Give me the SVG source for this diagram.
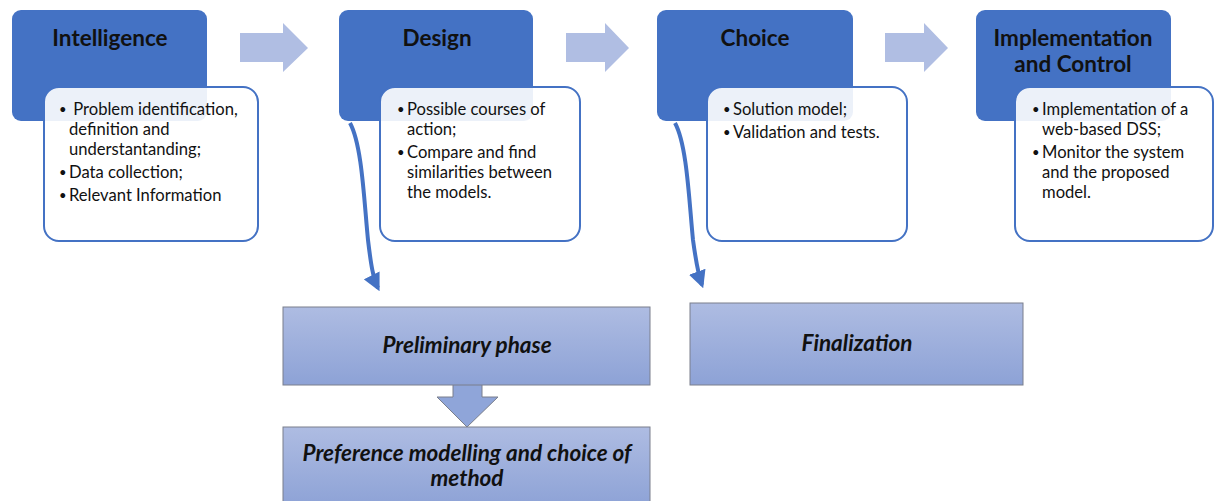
<svg xmlns="http://www.w3.org/2000/svg" width="1215" height="501" viewBox="0 0 1215 501">
<defs>
<linearGradient id="g" x1="0" y1="0" x2="0" y2="1">
<stop offset="0" stop-color="#AEBCE2"/>
<stop offset="1" stop-color="#8DA2D6"/>
</linearGradient>
<marker id="ah" viewBox="0 0 10 10" refX="8" refY="5" markerWidth="4.4" markerHeight="4.4" orient="auto" markerUnits="strokeWidth">
<path d="M0,0 L10,5 L0,10 Z" fill="#4472C4"/>
</marker>
<style>
.hd{fill:#4472C4}
.bd{fill:#FFFFFF;fill-opacity:0.9;stroke:#4472C4;stroke-width:2}
.ttl{font-family:Lato,"Open Sans",sans-serif;font-weight:bold;font-size:22.5px;fill:#111;text-anchor:middle}
.tx{font-family:Lato,"Open Sans",sans-serif;font-size:16.6px;fill:#111}
.bl{font-size:13px}
.ph{fill:url(#g);stroke:#7A7F8C;stroke-width:1}
.pt{font-family:Lato,"Open Sans",sans-serif;font-weight:bold;font-style:italic;font-size:22.5px;fill:#111;text-anchor:middle}
.ba{fill:#B0BEE3}
.cn{fill:none;stroke:#4472C4;stroke-width:4;marker-end:url(#ah)}
</style>
</defs>
<rect width="1215" height="501" fill="#FFFFFF"/>

<g id="flow-arrows">
<path class="ba" d="M240,33 H283 V23 L308,48 L283,72 V62 H240 Z"/>
<path class="ba" d="M566,33 H605 V23 L629,48 L605,72 V62 H566 Z"/>
<path class="ba" d="M885,33 H924 V23 L948,48 L924,72 V62 H885 Z"/>
</g>

<g id="intelligence">
<rect class="hd" x="12" y="10" width="195" height="111" rx="9"/>
<text class="ttl" x="110" y="46">Intelligence</text>
<rect class="bd" x="44" y="87" width="214" height="154" rx="15"/>
<text class="tx"><tspan class="bl" x="59" y="114">•</tspan><tspan x="69" y="115"> Problem identification,</tspan><tspan x="69" y="135">definition and</tspan><tspan x="69" y="155">understantanding;</tspan><tspan class="bl" x="59" y="177">•</tspan><tspan x="69" y="178">Data collection;</tspan><tspan class="bl" x="59" y="200">•</tspan><tspan x="69" y="201">Relevant Information</tspan></text>
</g>

<g id="design">
<rect class="hd" x="339" y="10" width="194" height="111" rx="9"/>
<text class="ttl" x="437" y="46">Design</text>
<rect class="bd" x="380" y="87" width="200" height="154" rx="15"/>
<text class="tx"><tspan class="bl" x="397" y="114">•</tspan><tspan x="407" y="115">Possible courses of</tspan><tspan x="407" y="135">action;</tspan><tspan class="bl" x="397" y="157">•</tspan><tspan x="407" y="158">Compare and find</tspan><tspan x="407" y="178">similarities between</tspan><tspan x="407" y="198">the models.</tspan></text>
</g>

<g id="choice">
<rect class="hd" x="657" y="10" width="196" height="111" rx="9"/>
<text class="ttl" x="755" y="46">Choice</text>
<rect class="bd" x="707" y="87" width="200" height="154" rx="15"/>
<text class="tx"><tspan class="bl" x="723" y="114">•</tspan><tspan x="733" y="115">Solution model;</tspan><tspan class="bl" x="723" y="137">•</tspan><tspan x="733" y="138">Validation and tests.</tspan></text>
</g>

<g id="implementation">
<rect class="hd" x="976" y="10" width="195" height="111" rx="9"/>
<text class="ttl" x="1073" y="46">Implementation</text>
<text class="ttl" x="1073" y="72">and Control</text>
<rect class="bd" x="1015" y="87" width="198" height="154" rx="15"/>
<text class="tx"><tspan class="bl" x="1032" y="114">•</tspan><tspan x="1042" y="115">Implementation of a</tspan><tspan x="1042" y="135">web-based DSS;</tspan><tspan class="bl" x="1032" y="157">•</tspan><tspan x="1042" y="158">Monitor the system</tspan><tspan x="1042" y="178">and the proposed</tspan><tspan x="1042" y="198">model.</tspan></text>
</g>

<g id="connectors">
<path class="cn" d="M350,123 C362,145 364,200 368,240 C371,265 373,278 378,288"/>
<path class="cn" d="M675,123 C687,145 689,200 693,240 C696,262 698,274 702,285"/>
<path d="M453,385 V397 H437 L467,427 L498,397 H482 V385" fill="#8FA5D9" stroke="#7A7F8C" stroke-width="1"/>
</g>

<g id="preliminary">
<rect class="ph" x="283" y="307" width="367" height="78"/>
<text class="pt" x="467" y="353">Preliminary phase</text>
</g>

<g id="preference">
<rect class="ph" x="283" y="427" width="367" height="80"/>
<text class="pt" x="467" y="461">Preference modelling and choice of</text>
<text class="pt" x="467" y="486">method</text>
</g>

<g id="finalization">
<rect class="ph" x="690" y="303" width="333" height="82"/>
<text class="pt" x="857" y="351">Finalization</text>
</g>
</svg>
